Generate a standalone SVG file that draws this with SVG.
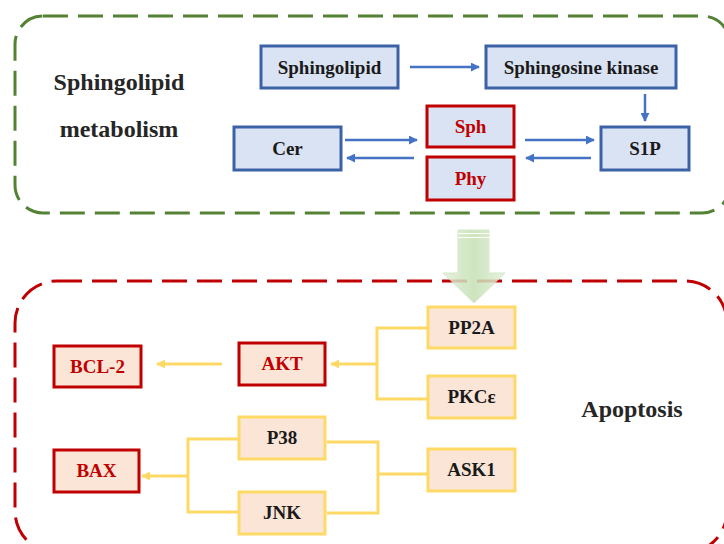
<svg xmlns="http://www.w3.org/2000/svg" width="724" height="544" viewBox="0 0 724 544">
<defs>
<style>
text{font-family:"Liberation Serif","DejaVu Serif","Noto Serif",Times,serif;font-weight:bold;text-anchor:middle}
.bt{font-size:19px;fill:#1a1a1a}
.rt{font-size:19px;fill:#c00000}
.lt{font-size:24px;fill:#262626}
.bb{fill:#dae3f3;stroke:#3c62a6;stroke-width:3}
.rb{fill:#dae3f3;stroke:#c00000;stroke-width:3}
.rp{fill:#fbe5d6;stroke:#c00000;stroke-width:3}
.yp{fill:#fbe5d6;stroke:#ffd966;stroke-width:3}
.ba{fill:none;stroke:#4472c4;stroke-width:2.5}
.ya{fill:none;stroke:#ffd966;stroke-width:3}
</style>
<marker id="mb" viewBox="0 0 10 10" refX="9" refY="5" markerWidth="9" markerHeight="9" markerUnits="userSpaceOnUse" orient="auto"><path d="M0,0L10,5L0,10z" fill="#4472c4"/></marker>
<marker id="my" viewBox="0 0 10 10" refX="9" refY="5" markerWidth="9" markerHeight="9" markerUnits="userSpaceOnUse" orient="auto"><path d="M0,0L10,5L0,10z" fill="#ffd966"/></marker>
<linearGradient id="gg" x1="0" y1="0" x2="1" y2="0">
<stop offset="0" stop-color="#e2efd9"/><stop offset="0.5" stop-color="#c5e0b4"/><stop offset="1" stop-color="#e2efd9"/>
</linearGradient>
</defs>
<rect width="724" height="544" fill="#ffffff"/>
<g id="sphingolipid-region">
<rect x="15" y="16" width="715" height="197" rx="28" fill="none" stroke="#548235" stroke-width="3" stroke-dasharray="25 10"/>
<text class="lt" x="119" y="90">Sphingolipid</text>
<text class="lt" x="119" y="137">metabolism</text>
</g>
<g id="apoptosis-region">
<rect x="15" y="281" width="712" height="272" rx="42" fill="none" stroke="#c00000" stroke-width="3" stroke-dasharray="25 10"/>
<text class="lt" x="632" y="417">Apoptosis</text>
</g>
<g id="n-sphingolipid"><rect class="bb" x="261" y="46" width="137" height="42"/><text class="bt" x="329.5" y="73.5">Sphingolipid</text></g>
<g id="n-sphk"><rect class="bb" x="486" y="46" width="190" height="42"/><text class="bt" x="581" y="73.5">Sphingosine kinase</text></g>
<g id="n-cer"><rect class="bb" x="234" y="127" width="107" height="43"/><text class="bt" x="287.5" y="155">Cer</text></g>
<g id="n-s1p"><rect class="bb" x="601" y="127" width="88" height="43"/><text class="bt" x="645" y="155">S1P</text></g>
<g id="n-sph"><rect class="rb" x="427" y="106" width="87" height="41"/><text class="rt" x="470.5" y="133">Sph</text></g>
<g id="n-phy"><rect class="rb" x="427" y="157" width="87" height="43"/><text class="rt" x="470.5" y="185">Phy</text></g>
<g id="n-bcl2"><rect class="rp" x="54" y="346" width="87" height="41"/><text class="rt" x="97.5" y="373">BCL-2</text></g>
<g id="n-akt"><rect class="rp" x="239" y="343" width="86" height="42"/><text class="rt" x="282" y="370">AKT</text></g>
<g id="n-bax"><rect class="rp" x="54" y="450" width="85" height="42"/><text class="rt" x="96.5" y="477">BAX</text></g>
<g id="n-pp2a"><rect class="yp" x="428" y="307" width="87" height="41"/><text class="bt" x="471.5" y="334">PP2A</text></g>
<g id="n-pkce"><rect class="yp" x="428" y="376" width="87" height="42"/><text class="bt" x="471.5" y="403">PKCε</text></g>
<g id="n-ask1"><rect class="yp" x="428" y="449" width="87" height="42"/><text class="bt" x="471.5" y="476">ASK1</text></g>
<g id="n-p38"><rect class="yp" x="239" y="417" width="86" height="42"/><text class="bt" x="282" y="444">P38</text></g>
<g id="n-jnk"><rect class="yp" x="239" y="492" width="86" height="42"/><text class="bt" x="282" y="519">JNK</text></g>
<g id="connectors">
<line class="ba" x1="410" y1="67" x2="479" y2="67" marker-end="url(#mb)"/>
<line class="ba" x1="645" y1="94" x2="645" y2="121" marker-end="url(#mb)"/>
<line class="ba" x1="345" y1="140" x2="417" y2="140" marker-end="url(#mb)"/>
<line class="ba" x1="414" y1="158" x2="347" y2="158" marker-end="url(#mb)"/>
<line class="ba" x1="525" y1="140" x2="594" y2="140" marker-end="url(#mb)"/>
<line class="ba" x1="591" y1="158" x2="526" y2="158" marker-end="url(#mb)"/>
<line class="ya" x1="222" y1="364" x2="157" y2="364" marker-end="url(#my)"/>
<path class="ya" d="M428,328H377V399H428"/>
<line class="ya" x1="377" y1="364" x2="331" y2="364" marker-end="url(#my)"/>
<path class="ya" d="M327,442H378V513H327"/>
<line class="ya" x1="378" y1="474" x2="428" y2="474"/>
<path class="ya" d="M239,439H188V512H239"/>
<line class="ya" x1="188" y1="476" x2="142" y2="476" marker-end="url(#my)"/>
<g opacity="0.85">
<path d="M458,230H489V273H505L474,303L443,273H458Z" fill="url(#gg)" stroke="#d0e4c2" stroke-width="1"/>
<line x1="458" y1="233.5" x2="489" y2="233.5" stroke="#ffffff" stroke-width="1"/>
<line x1="458" y1="237.5" x2="489" y2="237.5" stroke="#ffffff" stroke-width="1"/>
</g>
</g>
</svg>
